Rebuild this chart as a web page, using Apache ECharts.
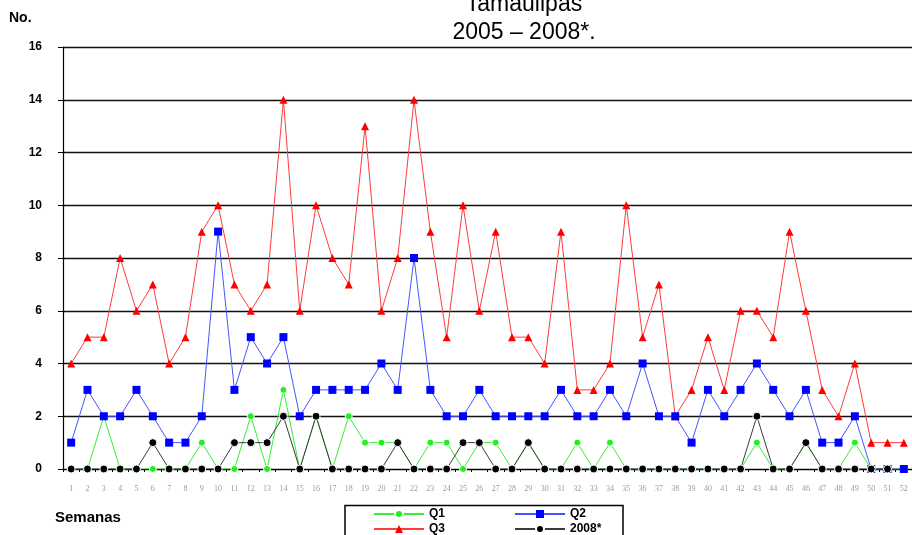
<!DOCTYPE html>
<html>
<head>
<meta charset="utf-8">
<script src="https://cdn.jsdelivr.net/npm/echarts@6/dist/echarts.min.js"></script>
<style>
html,body{margin:0;padding:0;background:#fff;}
#c{width:912px;height:535px;}
</style>
</head>
<body>
<div id="c"></div>
<script>
var weeks = [];
for (var i = 1; i <= 52; i++) weeks.push(String(i));
var yTicks = [0, 2, 4, 6, 8, 10, 12, 14, 16];

var q1 = [0,0,2,0,0,0,0,0,1,0, 0,2,0,3,0,2,0,2,1,1, 1,0,1,1,0,1,1,0,1,0, 0,1,0,1,0,0,0,0,0,0, 0,0,1,0,0,1,0,0,1,0, 0,0];
var q2 = [1,3,2,2,3,2,1,1,2,9, 3,5,4,5,2,3,3,3,3,4, 3,8,3,2,2,3,2,2,2,2, 3,2,2,3,2,4,2,2,1,3, 2,3,4,3,2,3,1,1,2,0, 0,0];
var q3 = [4,5,5,8,6,7,4,5,9,10, 7,6,7,14,6,10,8,7,13,6, 8,14,9,5,10,6,9,5,5,4, 9,3,3,4,10,5,7,2,3,5, 3,6,6,5,9,6,3,2,4,1, 1,1];
var y2008 = [0,0,0,0,0,1,0,0,0,0, 1,1,1,2,0,2,0,0,0,0, 1,0,0,0,1,1,0,0,1,0, 0,0,0,0,0,0,0,0,0,0, 0,0,2,0,0,1,0,0,0,0, 0,null];

var chart = echarts.init(document.getElementById('c'), null, {renderer:'canvas'});
var sans = '"Liberation Sans", Arial, sans-serif';
var legendText = {color:'#000', fontWeight:'bold', fontSize:12, fontFamily:sans};

chart.setOption({
  animation:false,
  backgroundColor:'#fff',
  grid:{left:63, top:47, width:854, height:422, containLabel:false},
  xAxis:{
    type:'category', data:weeks, boundaryGap:true,
    axisLine:{lineStyle:{color:'#000', width:1.2}},
    axisTick:{show:true, length:3, lineStyle:{color:'#000'}},
    axisLabel:{interval:0, color:'#9a9a9a', fontSize:8, fontFamily:'"Liberation Serif", serif', margin:16},
    splitLine:{show:false}
  },
  yAxis:{
    type:'value', min:0, max:16, interval:2,
    axisLine:{show:true, lineStyle:{color:'#000', width:1.2}},
    axisTick:{show:true, length:5, lineStyle:{color:'#000'}},
    axisLabel:{color:'#000', fontWeight:'bold', fontSize:12, fontFamily:sans, margin:21,
      formatter:function(v){ return yTicks.indexOf(v) >= 0 ? String(v) : ''; }},
    splitLine:{show:true, lineStyle:{color:'#111', width:1.3}}
  },
  legend:[
    {data:['Q1','Q2'], left:373, top:508, padding:0, itemWidth:50, itemHeight:10, itemGap:69, textStyle:legendText, selectedMode:false},
    {data:['Q3','2008*'], left:373, top:523, padding:0, itemWidth:50, itemHeight:10, itemGap:69, textStyle:legendText, selectedMode:false}
  ],
  graphic:[
    {type:'text', left:9, top:11, style:{text:'No.', font:'bold 14px ' + sans, fill:'#000'}},
    {type:'text', left:55, top:510, style:{text:'Semanas', font:'bold 15px ' + sans, fill:'#000'}},
    {type:'text', x:524, y:5, style:{text:'Tamaulipas', font:'23px ' + sans, fill:'#000', align:'center', verticalAlign:'middle'}},
    {type:'text', x:524, y:33, style:{text:'2005 – 2008*.', font:'23px ' + sans, fill:'#000', align:'center', verticalAlign:'middle'}},
    {type:'rect', shape:{x:345, y:505.5, width:278, height:40}, style:{fill:'none', stroke:'#000', lineWidth:1.5}}
  ],
  series:[
    {name:'Q1', type:'line', data:q1, symbol:'circle', symbolSize:7, showAllSymbol:true, z:2,
      lineStyle:{color:'#33ee33', width:1}, itemStyle:{color:'#22ee22', borderColor:'#fff', borderWidth:1}},
    {name:'Q3', type:'line', data:q3, symbol:'triangle', symbolSize:8, showAllSymbol:true, z:3,
      lineStyle:{color:'#ff3b3b', width:1}, itemStyle:{color:'#ff0000', borderColor:'#ff0000', borderWidth:0}},
    {name:'Q2', type:'line', data:q2, symbol:'rect', symbolSize:8, showAllSymbol:true, z:4,
      lineStyle:{color:'#4455ff', width:1}, itemStyle:{color:'#0000ff', borderWidth:0}},
    {name:'2008*', type:'line', data:y2008, symbol:'circle', symbolSize:8, showAllSymbol:true, z:5, connectNulls:false,
      lineStyle:{color:'#3a3a3a', width:1}, itemStyle:{color:'#000', borderColor:'#fff', borderWidth:1}}
  ]
});
</script>
</body>
</html>
